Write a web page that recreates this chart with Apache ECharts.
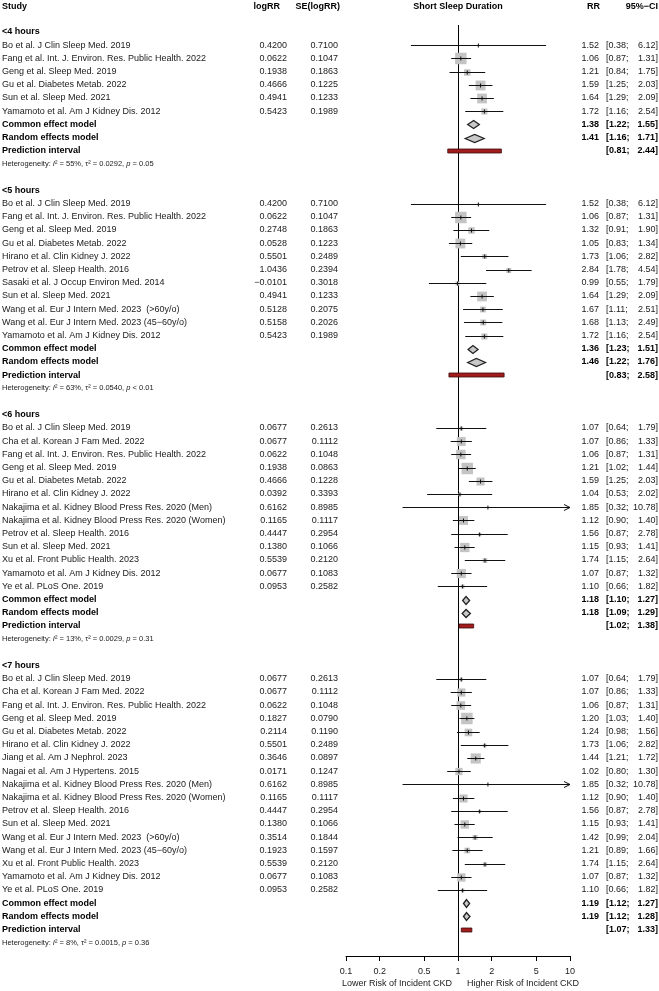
<!DOCTYPE html>
<html><head><meta charset="utf-8">
<script src="https://cdn.jsdelivr.net/npm/echarts@6/dist/echarts.min.js"></script>
<style>html,body{margin:0;padding:0;background:#fff}#c{width:659px;height:991px}</style>
</head><body><div id="c"></div>
<script>
// ---------------- DATA ----------------
const groupTitles = ['<4 hours', '<5 hours', '<6 hours', '<7 hours'];

const studiesLt4 = ['Bo et al. J Clin Sleep Med. 2019', 'Fang et al. Int. J. Environ. Res. Public Health. 2022', 'Geng et al. Sleep Med. 2019', 'Gu et al. Diabetes Metab. 2022', 'Sun et al. Sleep Med. 2021', 'Yamamoto et al. Am J Kidney Dis. 2012'];
const logRRLt4 = [0.4200, 0.0622, 0.1938, 0.4666, 0.4941, 0.5423];
const seLt4 = [0.7100, 0.1047, 0.1863, 0.1225, 0.1233, 0.1989];
const rrLt4 = [1.52, 1.06, 1.21, 1.59, 1.64, 1.72];
const loLt4 = [0.38, 0.87, 0.84, 1.25, 1.29, 1.16];
const hiLt4 = [6.12, 1.31, 1.75, 2.03, 2.09, 2.54];

const studiesLt5 = ['Bo et al. J Clin Sleep Med. 2019', 'Fang et al. Int. J. Environ. Res. Public Health. 2022', 'Geng et al. Sleep Med. 2019', 'Gu et al. Diabetes Metab. 2022', 'Hirano et al. Clin Kidney J. 2022', 'Petrov et al. Sleep Health. 2016', 'Sasaki et al. J Occup Environ Med. 2014', 'Sun et al. Sleep Med. 2021', 'Wang et al. Eur J Intern Med. 2023  (>60y/o)', 'Wang et al. Eur J Intern Med. 2023 (45\u221260y/o)', 'Yamamoto et al. Am J Kidney Dis. 2012'];
const logRRLt5 = [0.4200, 0.0622, 0.2748, 0.0528, 0.5501, 1.0436, -0.0101, 0.4941, 0.5128, 0.5158, 0.5423];
const seLt5 = [0.7100, 0.1047, 0.1863, 0.1223, 0.2489, 0.2394, 0.3018, 0.1233, 0.2075, 0.2026, 0.1989];
const rrLt5 = [1.52, 1.06, 1.32, 1.05, 1.73, 2.84, 0.99, 1.64, 1.67, 1.68, 1.72];
const loLt5 = [0.38, 0.87, 0.91, 0.83, 1.06, 1.78, 0.55, 1.29, 1.11, 1.13, 1.16];
const hiLt5 = [6.12, 1.31, 1.90, 1.34, 2.82, 4.54, 1.79, 2.09, 2.51, 2.49, 2.54];

const studiesLt6 = ['Bo et al. J Clin Sleep Med. 2019', 'Cha et al. Korean J Fam Med. 2022', 'Fang et al. Int. J. Environ. Res. Public Health. 2022', 'Geng et al. Sleep Med. 2019', 'Gu et al. Diabetes Metab. 2022', 'Hirano et al. Clin Kidney J. 2022', 'Nakajima et al. Kidney Blood Press Res. 2020 (Men)', 'Nakajima et al. Kidney Blood Press Res. 2020 (Women)', 'Petrov et al. Sleep Health. 2016', 'Sun et al. Sleep Med. 2021', 'Xu et al. Front Public Health. 2023', 'Yamamoto et al. Am J Kidney Dis. 2012', 'Ye et al. PLoS One. 2019'];
const logRRLt6 = [0.0677, 0.0677, 0.0622, 0.1938, 0.4666, 0.0392, 0.6162, 0.1165, 0.4447, 0.1380, 0.5539, 0.0677, 0.0953];
const seLt6 = [0.2613, 0.1112, 0.1048, 0.0863, 0.1228, 0.3393, 0.8985, 0.1117, 0.2954, 0.1066, 0.2120, 0.1083, 0.2582];
const rrLt6 = [1.07, 1.07, 1.06, 1.21, 1.59, 1.04, 1.85, 1.12, 1.56, 1.15, 1.74, 1.07, 1.10];
const loLt6 = [0.64, 0.86, 0.87, 1.02, 1.25, 0.53, 0.32, 0.90, 0.87, 0.93, 1.15, 0.87, 0.66];
const hiLt6 = [1.79, 1.33, 1.31, 1.44, 2.03, 2.02, 10.78, 1.40, 2.78, 1.41, 2.64, 1.32, 1.82];

const studiesLt7 = ['Bo et al. J Clin Sleep Med. 2019', 'Cha et al. Korean J Fam Med. 2022', 'Fang et al. Int. J. Environ. Res. Public Health. 2022', 'Geng et al. Sleep Med. 2019', 'Gu et al. Diabetes Metab. 2022', 'Hirano et al. Clin Kidney J. 2022', 'Jiang et al. Am J Nephrol. 2023', 'Nagai et al. Am J Hypertens. 2015', 'Nakajima et al. Kidney Blood Press Res. 2020 (Men)', 'Nakajima et al. Kidney Blood Press Res. 2020 (Women)', 'Petrov et al. Sleep Health. 2016', 'Sun et al. Sleep Med. 2021', 'Wang et al. Eur J Intern Med. 2023  (>60y/o)', 'Wang et al. Eur J Intern Med. 2023 (45\u221260y/o)', 'Xu et al. Front Public Health. 2023', 'Yamamoto et al. Am J Kidney Dis. 2012', 'Ye et al. PLoS One. 2019'];
const logRRLt7 = [0.0677, 0.0677, 0.0622, 0.1827, 0.2114, 0.5501, 0.3646, 0.0171, 0.6162, 0.1165, 0.4447, 0.1380, 0.3514, 0.1923, 0.5539, 0.0677, 0.0953];
const seLt7 = [0.2613, 0.1112, 0.1048, 0.0790, 0.1190, 0.2489, 0.0897, 0.1247, 0.8985, 0.1117, 0.2954, 0.1066, 0.1844, 0.1597, 0.2120, 0.1083, 0.2582];
const rrLt7 = [1.07, 1.07, 1.06, 1.20, 1.24, 1.73, 1.44, 1.02, 1.85, 1.12, 1.56, 1.15, 1.42, 1.21, 1.74, 1.07, 1.10];
const loLt7 = [0.64, 0.86, 0.87, 1.03, 0.98, 1.06, 1.21, 0.80, 0.32, 0.90, 0.87, 0.93, 0.99, 0.89, 1.15, 0.87, 0.66];
const hiLt7 = [1.79, 1.33, 1.31, 1.40, 1.56, 2.82, 1.72, 1.30, 10.78, 1.40, 2.78, 1.41, 2.04, 1.66, 2.64, 1.32, 1.82];

// pooled estimates: [RR, lower, upper]
const commonEffect = [[1.38, 1.22, 1.55], [1.36, 1.23, 1.51], [1.18, 1.10, 1.27], [1.19, 1.12, 1.27]];
const randomEffects = [[1.41, 1.16, 1.71], [1.46, 1.22, 1.76], [1.18, 1.09, 1.29], [1.19, 1.12, 1.28]];
const predictionInterval = [[0.81, 2.44], [0.83, 2.58], [1.02, 1.38], [1.07, 1.33]];
const hetI2 = ['55%', '63%', '13%', '8%'];
const hetTau2 = ['0.0292', '0.0540', '0.0029', '0.0015'];
const hetP = ['= 0.05', '< 0.01', '= 0.31', '= 0.36'];

const tickValues = [0.1, 0.2, 0.5, 1, 2, 5, 10];
const tickLabels = ['0.1', '0.2', '0.5', '1', '2', '5', '10'];
const axisMin = 0.1, axisMax = 10;

// ---------------- STRUCTURE ----------------
const G = [
  {studies: studiesLt4, logRR: logRRLt4, se: seLt4, rr: rrLt4, lo: loLt4, hi: hiLt4},
  {studies: studiesLt5, logRR: logRRLt5, se: seLt5, rr: rrLt5, lo: loLt5, hi: hiLt5},
  {studies: studiesLt6, logRR: logRRLt6, se: seLt6, rr: rrLt6, lo: loLt6, hi: hiLt6},
  {studies: studiesLt7, logRR: logRRLt7, se: seLt7, rr: rrLt7, lo: loLt7, hi: hiLt7}
];

const rows = [];
let r = 0;
G.forEach((g, gi) => {
  rows.push({kind: 'title', row: r++, gi});
  const seMin = Math.min.apply(null, g.se);
  g.studies.forEach((name, k) => rows.push({kind: 'study', row: r++, gi, k, rel: seMin / g.se[k]}));
  rows.push({kind: 'common', row: r++, gi});
  rows.push({kind: 'random', row: r++, gi});
  rows.push({kind: 'pred', row: r++, gi});
  rows.push({kind: 'het', row: r++, gi});
  r++;
});
const HEADER_ROW = -1.9;

const FONT = "'Liberation Sans', Arial, Helvetica, sans-serif";
const FS = 9;
const TXT = '#1a1a1a';
const MAXSQ = 11.5;

const fmt4 = v => v.toFixed(4).replace('-', '\u2212');

const studyData = rows.filter(o => o.kind === 'study').map(o => {
  const g = G[o.gi];
  return [g.rr[o.k], o.row, g.lo[o.k], g.hi[o.k], o.rel];
});
const diamondData = [];
rows.forEach(o => {
  if (o.kind === 'common') diamondData.push([commonEffect[o.gi][0], o.row, commonEffect[o.gi][1], commonEffect[o.gi][2]]);
  if (o.kind === 'random') diamondData.push([randomEffects[o.gi][0], o.row, randomEffects[o.gi][1], randomEffects[o.gi][2]]);
});
const predData = rows.filter(o => o.kind === 'pred').map(o => [predictionInterval[o.gi][0], o.row, predictionInterval[o.gi][1]]);

function txt(x, y, text, align, bold, size) {
  return {type: 'text', style: {x: x, y: y, text: text, align: align, verticalAlign: 'middle',
    fontSize: size || FS, fontFamily: FONT, fontWeight: bold ? 'bold' : 'normal', fill: bold ? '#000' : TXT}};
}

// ---------------- CHART ----------------
const chart = echarts.init(document.getElementById('c'), null, {renderer: 'canvas'});

const option = {
  animation: false,
  backgroundColor: '#fff',
  grid: {left: 346, right: 89, top: 32 - 13.2, bottom: 991 - (32 + 13.2 * 70), containLabel: false, outerBoundsMode: 'none'},
  xAxis: {
    type: 'log', logBase: 10, min: axisMin, max: axisMax,
    axisLine: {show: true, onZero: false, lineStyle: {color: '#000', width: 1}},
    axisTick: {show: true, customValues: tickValues, length: 5, lineStyle: {color: '#000', width: 1}},
    axisLabel: {show: true, customValues: tickValues, margin: 11, fontSize: FS, fontFamily: FONT, color: TXT,
      formatter: v => { let best = 0; tickValues.forEach((t, i) => { if (Math.abs(Math.log(t) - Math.log(v)) < Math.abs(Math.log(tickValues[best]) - Math.log(v))) best = i; }); return tickLabels[best]; }},
    splitLine: {show: false}, minorTick: {show: false}
  },
  yAxis: {type: 'value', inverse: true, min: -1, max: 70, show: false},
  series: [
    { // study squares + CI
      type: 'custom', z: 3, clip: false,
      data: studyData,
      encode: {x: 0, y: 1},
      renderItem: (params, api) => {
        const rr = api.value(0), row = api.value(1), lo = api.value(2), hi = api.value(3), rel = api.value(4);
        const c = api.coord([rr, row]);
        const y = Math.round(c[1]) + 0.5;
        const xl = api.coord([Math.max(lo, axisMin), row])[0];
        const xh = api.coord([Math.min(hi, axisMax), row])[0];
        const s = rel * MAXSQ;
        const ch = [
          {type: 'rect', shape: {x: c[0] - s / 2, y: y - s / 2, width: s, height: s}, style: {fill: '#c4c4c4', stroke: null}},
          {type: 'line', shape: {x1: xl, y1: y, x2: xh, y2: y}, style: {stroke: '#111', lineWidth: 1}},
          {type: 'line', shape: {x1: c[0], y1: y - 2, x2: c[0], y2: y + 2}, style: {stroke: '#111', lineWidth: 1}}
        ];
        if (hi > axisMax) ch.push({type: 'polyline', shape: {points: [[xh - 6, y - 3], [xh, y], [xh - 6, y + 3]]}, style: {stroke: '#111', fill: null, lineWidth: 1}});
        if (lo < axisMin) ch.push({type: 'polyline', shape: {points: [[xl + 6, y - 3], [xl, y], [xl + 6, y + 3]]}, style: {stroke: '#111', fill: null, lineWidth: 1}});
        return {type: 'group', children: ch};
      }
    },
    { // pooled diamonds
      type: 'custom', z: 3, clip: false,
      data: diamondData,
      encode: {x: 0, y: 1},
      renderItem: (params, api) => {
        const est = api.value(0), row = api.value(1);
        const c = api.coord([est, row]);
        const y = Math.round(c[1]) + 0.5;
        const xl = api.coord([api.value(2), row])[0];
        const xh = api.coord([api.value(3), row])[0];
        return {type: 'polygon', shape: {points: [[xl, y], [c[0], y - 4], [xh, y], [c[0], y + 4]]},
          style: {fill: '#c8c8c8', stroke: '#222', lineWidth: 1.3}};
      }
    },
    { // prediction intervals
      type: 'custom', z: 3, clip: false,
      data: predData,
      encode: {x: [0, 2], y: 1},
      renderItem: (params, api) => {
        const row = api.value(1);
        const a = api.coord([api.value(0), row]);
        const b = api.coord([api.value(2), row]);
        const y = Math.round(a[1]);
        return {type: 'rect', shape: {x: a[0], y: y - 2, width: b[0] - a[0], height: 4},
          style: {fill: '#a31c1c', stroke: '#3a0c0c', lineWidth: 0.8}};
      }
    },
    { // reference line at RR = 1
      type: 'custom', z: 2, clip: false,
      data: [[1, -0.53, 70]],
      encode: {x: 0, y: 1},
      renderItem: (params, api) => {
        const a = api.coord([api.value(0), api.value(1)]);
        const b = api.coord([api.value(0), api.value(2)]);
        const x = Math.round(a[0]) + 0.5;
        return {type: 'line', shape: {x1: x, y1: a[1], x2: x, y2: b[1]}, style: {stroke: '#000', lineWidth: 1}};
      }
    },
    { // text columns
      type: 'custom', z: 5, clip: false, silent: true,
      data: [[1, HEADER_ROW]].concat(rows.map(o => [1, o.row])).concat([[1, 72.1]]),
      encode: {x: 0, y: 1},
      renderItem: (params, api) => {
        const row = api.value(1);
        const c = api.coord([1, row]);
        const y = c[1];
        const i = params.dataIndex;
        if (i === 0) {
          return {type: 'group', children: [
            txt(2, y, 'Study', 'left', true),
            txt(280, y, 'logRR', 'right', true),
            txt(340, y, 'SE(logRR)', 'right', true),
            txt(c[0], y, 'Short Sleep Duration', 'center', true),
            txt(600, y, 'RR', 'right', true),
            txt(658, y, '95%\u2212CI', 'right', true)
          ]};
        }
        if (i === rows.length + 1) {
          return {type: 'group', children: [
            txt(c[0] - 6, y, 'Lower Risk of Incident CKD', 'right', false),
            txt(c[0] + 9, y, 'Higher Risk of Incident CKD', 'left', false)
          ]};
        }
        const o = rows[i - 1];
        const g = G[o.gi];
        if (o.kind === 'title') return txt(2, y, groupTitles[o.gi], 'left', true);
        if (o.kind === 'study') {
          return {type: 'group', children: [
            txt(2, y, g.studies[o.k], 'left', false),
            txt(287, y, fmt4(g.logRR[o.k]), 'right', false),
            txt(338, y, fmt4(g.se[o.k]), 'right', false),
            txt(599, y, g.rr[o.k].toFixed(2), 'right', false),
            txt(606, y, '[' + g.lo[o.k].toFixed(2) + ';', 'left', false),
            txt(658, y, g.hi[o.k].toFixed(2) + ']', 'right', false)
          ]};
        }
        if (o.kind === 'common' || o.kind === 'random') {
          const p = o.kind === 'common' ? commonEffect[o.gi] : randomEffects[o.gi];
          return {type: 'group', children: [
            txt(2, y, o.kind === 'common' ? 'Common effect model' : 'Random effects model', 'left', true),
            txt(599, y, p[0].toFixed(2), 'right', true),
            txt(606, y, '[' + p[1].toFixed(2) + ';', 'left', true),
            txt(658, y, p[2].toFixed(2) + ']', 'right', true)
          ]};
        }
        if (o.kind === 'pred') {
          const p = predictionInterval[o.gi];
          return {type: 'group', children: [
            txt(2, y, 'Prediction interval', 'left', true),
            txt(606, y, '[' + p[0].toFixed(2) + ';', 'left', true),
            txt(658, y, p[1].toFixed(2) + ']', 'right', true)
          ]};
        }
        if (o.kind === 'het') {
          const hs = 7.5;
          return {type: 'text', style: {
            x: 2, y: y, align: 'left', verticalAlign: 'middle',
            text: '{n|Heterogeneity: }{i|I}{n|\u00b2 = ' + hetI2[o.gi] + ', \u03c4\u00b2 = ' + hetTau2[o.gi] + ', }{i|p}{n| ' + hetP[o.gi] + '}',
            rich: {
              n: {fontSize: hs, fontFamily: FONT, fill: TXT},
              i: {fontSize: hs, fontFamily: FONT, fontStyle: 'italic', fill: TXT}
            }
          }};
        }
        return null;
      }
    }
  ]
};
chart.setOption(option);
</script>
</body></html>
